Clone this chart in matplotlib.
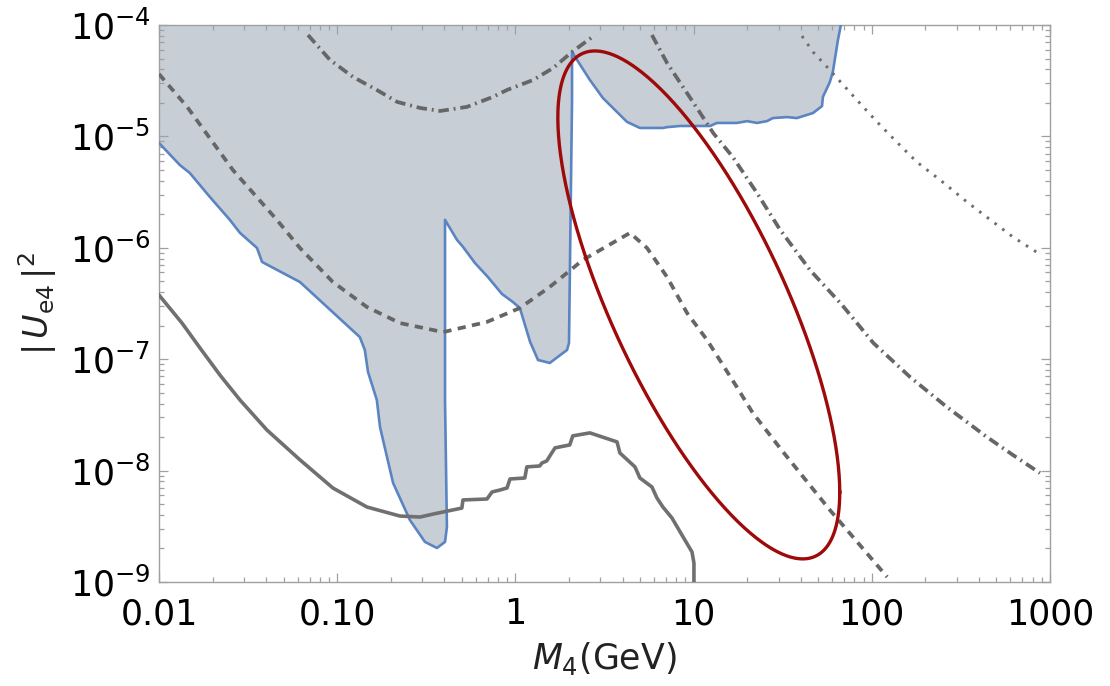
import numpy as np
import matplotlib
matplotlib.use("Agg")
import matplotlib.pyplot as plt
from matplotlib.ticker import LogLocator, NullFormatter, FixedLocator, FixedFormatter

plt.rcParams['mathtext.fontset'] = 'dejavusans'

# ---- excluded region (shaded, blue edge) ----
excl_m = [0.01, 0.0131, 0.0149, 0.0193, 0.0250, 0.0285, 0.0355, 0.0379, 0.0618, 0.134,
          0.143, 0.149, 0.167, 0.174, 0.206, 0.256, 0.311, 0.363, 0.403, 0.413,
          0.403, 0.403, 0.470, 0.508, 0.593, 0.701, 0.841, 0.969, 1.06, 1.21,
          1.34, 1.56, 1.95, 2.00, 2.08, 2.08, 2.22, 2.62, 3.10, 4.23,
          5.00, 6.73, 7.10, 8.40, 12.4, 13.5, 17.5, 20.0, 22.7, 25.8,
          27.9, 33.4, 38.0, 46.8, 52.6, 53.2, 58.2, 60.5, 62.9, 64.6, 67.1]
excl_u = [8.73e-6, 5.53e-6, 4.69e-6, 2.86e-6, 1.78e-6, 1.36e-6, 9.96e-7, 7.46e-7, 4.93e-7, 1.58e-7,
          1.21e-7, 7.68e-8, 4.30e-8, 2.46e-8, 7.74e-9, 3.60e-9, 2.29e-9, 2.02e-9, 2.29e-9, 3.12e-9,
          4.30e-8, 1.78e-6, 1.18e-6, 1.02e-6, 7.31e-7, 5.47e-7, 3.85e-7, 3.26e-7, 2.88e-7, 1.43e-7,
          9.84e-8, 9.25e-8, 1.21e-7, 1.40e-7, 2.12e-5, 5.73e-5, 4.85e-5, 3.21e-5, 2.21e-5, 1.35e-5,
          1.19e-5, 1.19e-5, 1.21e-5, 1.24e-5, 1.24e-5, 1.32e-5, 1.32e-5, 1.37e-5, 1.32e-5, 1.37e-5,
          1.46e-5, 1.49e-5, 1.46e-5, 1.62e-5, 1.87e-5, 2.26e-5, 3.08e-5, 3.79e-5, 5.61e-5, 7.33e-5, 1e-4]

# ---- lower solid gray curve ----
solid_m = [0.01, 0.0135, 0.0170, 0.0220, 0.0285, 0.0404, 0.0618, 0.0946, 0.147, 0.225, 0.292, 0.345,
           0.393, 0.501, 0.508, 0.693, 0.740, 0.821, 0.898, 0.933, 1.13, 1.16,
           1.37, 1.41, 1.50, 1.56, 1.67, 2.02, 2.10, 2.62, 3.72, 3.86,
           4.69, 5.00, 5.84, 6.23, 6.73, 7.57, 8.61, 9.80, 10.05, 10.05]
solid_u = [3.77e-7, 2.10e-7, 1.26e-7, 7.20e-8, 4.30e-8, 2.31e-8, 1.25e-8, 6.98e-9, 4.71e-9, 3.91e-9, 3.83e-9, 4.07e-9,
           4.25e-9, 4.61e-9, 5.45e-9, 5.56e-9, 6.43e-9, 6.70e-9, 6.98e-9, 8.41e-9, 8.58e-9, 1.08e-8,
           1.10e-8, 1.17e-8, 1.22e-8, 1.35e-8, 1.60e-8, 1.70e-8, 2.05e-8, 2.18e-8, 1.81e-8, 1.44e-8,
           1.08e-8, 8.58e-9, 7.13e-9, 5.68e-9, 4.71e-9, 3.75e-9, 2.64e-9, 1.86e-9, 1.48e-9, 1e-9]

# ---- dashed gray curve ----
dash_m = [0.01, 0.0144, 0.0260, 0.0459, 0.0618, 0.0946, 0.147, 0.225, 0.393, 0.693,
          1.06, 1.56, 2.39, 4.40, 5.48, 7.10, 9.19, 11.9, 17.5, 21.5, 31.8, 58.2, 122]
dash_u = [3.63e-5, 1.84e-5, 4.99e-6, 1.78e-6, 9.96e-7, 4.93e-7, 2.94e-7, 2.11e-7, 1.75e-7, 2.16e-7,
          2.88e-7, 4.45e-7, 7.76e-7, 1.36e-6, 9.96e-7, 5.47e-7, 2.60e-7, 1.49e-7, 5.62e-8, 3.29e-8,
          1.47e-8, 4.43e-9, 1.11e-9]

# ---- dash-dot gray curve (two visible branches) ----
dd1_m = [0.0686, 0.0912, 0.123, 0.167, 0.217, 0.292, 0.378, 0.535, 0.748, 0.898,
         1.26, 1.63, 2.08, 2.80]
dd1_u = [8.13e-5, 4.85e-5, 3.41e-5, 2.61e-5, 2.04e-5, 1.80e-5, 1.69e-5, 1.84e-5, 2.26e-5, 2.61e-5,
         3.21e-5, 4.11e-5, 5.73e-5, 8.13e-5]
dd2_m = [5.84, 7.10, 8.73, 10.9, 12.9, 16.6, 22.7, 30.6, 45.0, 68.1,
         102, 164, 264, 443, 620, 879]
dd2_u = [8.13e-5, 4.56e-5, 2.77e-5, 1.62e-5, 1.07e-5, 6.53e-6, 3.10e-6, 1.45e-6, 6.32e-7, 3.07e-7,
         1.40e-7, 6.92e-8, 3.72e-8, 2.00e-8, 1.38e-8, 9.50e-9]

# ---- dotted gray curve ----
dot_m = [40.6, 46.8, 56.1, 64.6, 82.6, 107, 138, 179, 242, 342, 479, 620, 857]
dot_u = [7.96e-5, 5.73e-5, 4.20e-5, 3.27e-5, 2.12e-5, 1.35e-5, 8.91e-6, 5.89e-6, 4.06e-6, 2.58e-6,
         1.71e-6, 1.25e-6, 8.97e-7]

# ---- ellipse (in decades): centre and the two half-axis vectors ----
ell_center = (10.7, 3.07e-7)
ell_vec1 = (0.791, -1.681)
ell_vec2 = (0.0, 1.540)

xticks = [0.01, 0.1, 1, 10, 100, 1000]
xticklabels = ['0.01', '0.10', '1', '10', '100', '1000']
yticks = [1e-9, 1e-8, 1e-7, 1e-6, 1e-5, 1e-4]
yticklabels = [r'$10^{-9}$', r'$10^{-8}$', r'$10^{-7}$', r'$10^{-6}$', r'$10^{-5}$', r'$10^{-4}$']

fig = plt.figure(figsize=(11.1, 6.86), dpi=100)
ax = fig.add_axes([0.1432, 0.1516, 0.8027, 0.812])
ax.set_xscale('log')
ax.set_yscale('log')
ax.set_xlim(0.01, 1000)
ax.set_ylim(1e-9, 1e-4)

# shaded region
poly_m = excl_m + [0.01]
poly_u = excl_u + [1e-4]
ax.fill(poly_m, poly_u, color='#c8ced6', lw=0, zorder=1)
ax.plot(excl_m, excl_u, color='#5b84c2', lw=1.9, zorder=3)

gray = '#666666'
ax.plot(solid_m, solid_u, color='#707070', lw=2.6, zorder=4)
ax.plot(dash_m, dash_u, color=gray, lw=2.7, dashes=(2.2, 1.7), zorder=4)
ax.plot(dd1_m, dd1_u, color=gray, lw=2.7, dashes=(2.8, 1.3, 0.5, 1.3), zorder=4)
ax.plot(dd2_m, dd2_u, color=gray, lw=2.7, dashes=(2.8, 1.3, 0.5, 1.3), zorder=4)
ax.plot(dot_m, dot_u, color='#6e6e6e', lw=2.1, dashes=(0.9, 2.4), zorder=4)

t = np.linspace(0, 2 * np.pi, 400)
lx = np.log10(ell_center[0]) + ell_vec1[0] * np.cos(t) + ell_vec2[0] * np.sin(t)
ly = np.log10(ell_center[1]) + ell_vec1[1] * np.cos(t) + ell_vec2[1] * np.sin(t)
ax.plot(10 ** lx, 10 ** ly, color='#9e0a0a', lw=2.4, zorder=5)

# axes styling
for s in ax.spines.values():
    s.set_color('#a0a0a0')
    s.set_linewidth(1.0)
ax.xaxis.set_major_locator(FixedLocator(xticks))
ax.xaxis.set_major_formatter(FixedFormatter(xticklabels))
ax.yaxis.set_major_locator(FixedLocator(yticks))
ax.yaxis.set_major_formatter(FixedFormatter(yticklabels))
ax.xaxis.set_minor_locator(LogLocator(base=10, subs=np.arange(2, 10), numticks=20))
ax.yaxis.set_minor_locator(LogLocator(base=10, subs=np.arange(2, 10), numticks=20))
ax.xaxis.set_minor_formatter(NullFormatter())
ax.yaxis.set_minor_formatter(NullFormatter())
ax.tick_params(which='both', direction='in', top=True, right=True, color='#a0a0a0', width=0.9)
ax.tick_params(which='major', length=6.5, labelsize=25, labelcolor='black')
ax.tick_params(which='minor', length=3.5)
ax.tick_params(axis='x', which='major', pad=11)
ax.tick_params(axis='y', which='major', pad=6)

ax.set_xlabel(r'$M_4$(GeV)', fontsize=25, color='#222222', labelpad=6)
ax.set_ylabel(r'$|\,U_{\mathrm{e}4}\,|^2$', fontsize=24, color='#222222', labelpad=8)

fig.savefig('out.png', dpi=100)
